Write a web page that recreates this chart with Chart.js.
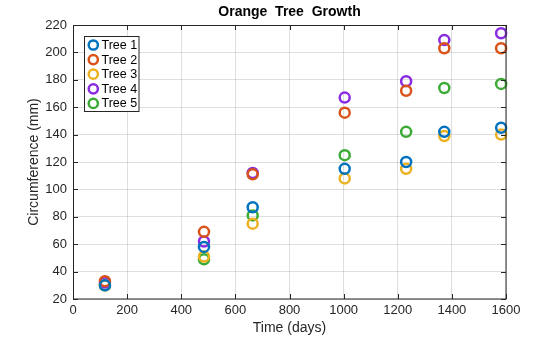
<!DOCTYPE html>
<html><head><meta charset="utf-8">
<script src="https://cdn.jsdelivr.net/npm/chart.js@4"></script>
<style>html,body{margin:0;padding:0;background:#fff}#wrap{width:560px;height:337px}</style>
</head><body><div id="wrap"><canvas id="c" width="560" height="337"></canvas></div>
<script>
const ages = [118, 484, 664, 1004, 1231, 1372, 1582];
const tree1 = [30, 58, 87, 115, 120, 142, 145];
const tree2 = [33, 69, 111, 156, 172, 203, 203];
const tree3 = [30, 51, 75, 108, 115, 139, 140];
const tree4 = [32, 62, 112, 167, 179, 209, 214];
const tree5 = [30, 49, 81, 125, 142, 174, 177];
const seriesNames = ['Tree 1','Tree 2','Tree 3','Tree 4','Tree 5'];
const seriesValues = [tree1, tree2, tree3, tree4, tree5];
const colors = ['#0072BD','#D95319','#EDB120','#8A2BE2','#3DAA35'];
const FONT = '"Liberation Sans", Arial, Helvetica, sans-serif';

const datasets = seriesNames.map((n,i)=>({
  label:n,
  data: ages.map((a,j)=>({x:a,y:seriesValues[i][j]})),
  borderColor: colors[i], backgroundColor:'rgba(0,0,0,0)',
  pointRadius:5, pointHoverRadius:5, pointBorderWidth:2.5, showLine:false, clip:false
}));

const deco = {
  id:'deco',
  afterDraw(chart){
    const {ctx, chartArea:a, scales:{x,y}} = chart;
    ctx.save();
    ctx.strokeStyle='#262626'; ctx.lineWidth=1;
    ctx.strokeRect(a.left+0.5, a.top+0.5, a.right-a.left-1+0.5, a.bottom-a.top-1+0.5);
    ctx.beginPath();
    x.ticks.forEach(t=>{const px=Math.round(x.getPixelForValue(t.value))+0.5;
      ctx.moveTo(px,a.bottom); ctx.lineTo(px,a.bottom-5);
      ctx.moveTo(px,a.top); ctx.lineTo(px,a.top+5);});
    y.ticks.forEach(t=>{const py=Math.round(y.getPixelForValue(t.value))+0.5;
      ctx.moveTo(a.left,py); ctx.lineTo(a.left+5,py);
      ctx.moveTo(a.right,py); ctx.lineTo(a.right-5,py);});
    ctx.stroke();
    // title
    ctx.fillStyle='#000'; ctx.font='bold 14px '+FONT; ctx.textAlign='center'; ctx.textBaseline='middle';
    ctx.fillText('Orange  Tree  Growth', (a.left+a.right)/2, 12);
    // legend
    const lx=84.5, ly=36.5, lw=54.5, lh=75;
    ctx.fillStyle='#fff'; ctx.fillRect(lx,ly,lw,lh);
    ctx.strokeStyle='#262626'; ctx.lineWidth=1; ctx.strokeRect(lx,ly,lw,lh);
    ctx.font='12.5px '+FONT; ctx.textAlign='left'; ctx.textBaseline='middle';
    chart.data.datasets.forEach((d,i)=>{
      const cy=45+i*14.6;
      ctx.beginPath(); ctx.arc(93.3,cy,4.6,0,Math.PI*2);
      ctx.strokeStyle=d.borderColor; ctx.lineWidth=2.5; ctx.stroke();
      ctx.fillStyle='#000'; ctx.fillText(d.label,101.5,cy+0.5);
    });
    ctx.restore();
  }
};

new Chart(document.getElementById('c'),{
  type:'scatter',
  data:{datasets},
  options:{
    responsive:false, animation:false, devicePixelRatio:1,
    layout:{padding:{top:25,right:54,bottom:0,left:26}},
    plugins:{legend:{display:false},tooltip:{enabled:false},title:{display:false}},
    scales:{
      x:{type:'linear',min:0,max:1600,
        ticks:{stepSize:200,color:'#262626',font:{family:FONT,size:13},padding:4,maxRotation:0,callback:v=>String(v)},
        grid:{color:'rgba(0,0,0,0.13)',drawTicks:false},
        border:{display:false},
        title:{display:true,text:'Time (days)',color:'#262626',font:{family:FONT,size:14},padding:{top:0,bottom:0}},
        afterFit(s){s.height=38;}
      },
      y:{type:'linear',min:20,max:220,
        ticks:{stepSize:20,color:'#262626',font:{family:FONT,size:13},padding:6,callback:v=>String(v)},
        grid:{color:'rgba(0,0,0,0.13)',drawTicks:false},
        border:{display:false},
        title:{display:true,text:'Circumference (mm)',color:'#262626',font:{family:FONT,size:14},padding:{top:0,bottom:4}},
        afterFit(s){s.width=47;}
      }
    }
  },
  plugins:[deco]
});
</script></body></html>
